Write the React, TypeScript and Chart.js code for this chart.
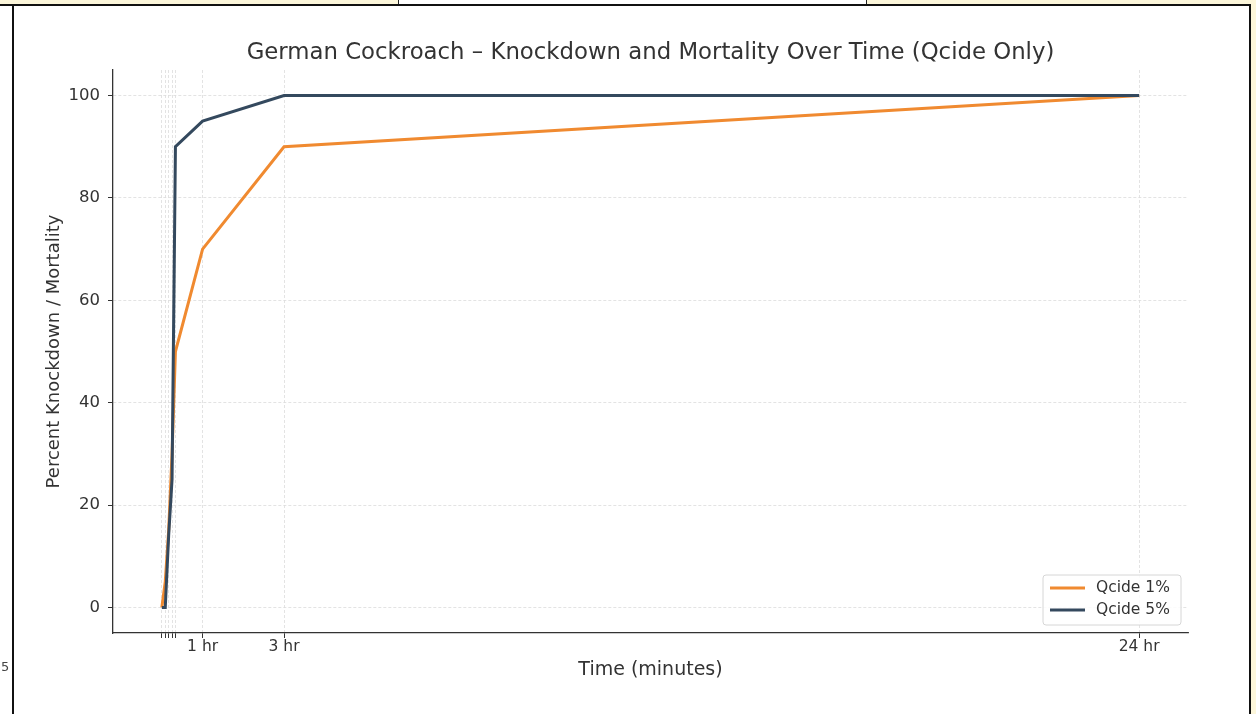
import React, { useEffect, useRef } from "react";
import { Chart, registerables } from "chart.js";

Chart.register(...registerables);

const TITLE = "German Cockroach – Knockdown and Mortality Over Time (Qcide Only)";
const X_TITLE = "Time (minutes)";
const Y_TITLE = "Percent Knockdown / Mortality";

const timeMinutes = [0, 5, 10, 15, 20, 60, 180, 1440];
const qcide1 = [0, 5, 15, 30, 50, 70, 90, 100];
const qcide5 = [0, 0, 14, 25, 90, 95, 100, 100];
const seriesLabels = ["Qcide 1%", "Qcide 5%"];
const seriesColors = ["#f08a30", "#34495e"];

const xTickValues = [0, 5, 10, 15, 20, 60, 180, 1440];
const xTickLabels: Record<number, string> = { 60: "1 hr", 180: "3 hr", 1440: "24 hr" };
const yTickValues = [0, 20, 40, 60, 80, 100];

const FONT = '"DejaVu Sans", "Liberation Sans", sans-serif';
const TEXT = "#333333";

const titlePlugin = {
  id: "centerTitle",
  afterDraw(chart: any) {
    const { ctx, chartArea } = chart;
    ctx.save();
    ctx.font = `22.8px ${FONT}`;
    ctx.fillStyle = TEXT;
    ctx.textAlign = "center";
    ctx.textBaseline = "middle";
    ctx.fillText(TITLE, (chartArea.left + chartArea.right) / 2, 53.5);
    ctx.restore();
  },
};

const legendPlugin = {
  id: "innerLegend",
  afterDatasetsDraw(chart: any) {
    const { ctx, chartArea } = chart;
    const w = 138;
    const h = 50;
    const x = chartArea.right - 7 - w;
    const y = chartArea.bottom - 8 - h;
    ctx.save();
    ctx.beginPath();
    const r = 3;
    ctx.moveTo(x + r, y);
    ctx.lineTo(x + w - r, y);
    ctx.arcTo(x + w, y, x + w, y + r, r);
    ctx.lineTo(x + w, y + h - r);
    ctx.arcTo(x + w, y + h, x + w - r, y + h, r);
    ctx.lineTo(x + r, y + h);
    ctx.arcTo(x, y + h, x, y + h - r, r);
    ctx.lineTo(x, y + r);
    ctx.arcTo(x, y, x + r, y, r);
    ctx.closePath();
    ctx.fillStyle = "rgba(255,255,255,0.85)";
    ctx.fill();
    ctx.strokeStyle = "#d6d6d6";
    ctx.lineWidth = 1;
    ctx.stroke();
    const order = [0, 1];
    order.forEach((di, i) => {
      const ds = chart.data.datasets[di];
      const ly = y + 13 + i * 22;
      ctx.beginPath();
      ctx.strokeStyle = ds.borderColor;
      ctx.lineWidth = 3;
      ctx.moveTo(x + 7, ly);
      ctx.lineTo(x + 42, ly);
      ctx.stroke();
      ctx.fillStyle = TEXT;
      ctx.font = `15.5px ${FONT}`;
      ctx.textAlign = "left";
      ctx.textBaseline = "middle";
      ctx.fillText(ds.label, x + 53, ly);
    });
    ctx.restore();
  },
};

function ChartView() {
  const ref = useRef<HTMLCanvasElement | null>(null);
  useEffect(() => {
    if (!ref.current) return;
    const chart = new Chart(ref.current, {
      type: "line",
      data: {
        datasets: [
          {
            label: seriesLabels[0],
            data: timeMinutes.map((t, i) => ({ x: t, y: qcide1[i] })),
            borderColor: seriesColors[0],
            backgroundColor: seriesColors[0],
            borderWidth: 3,
            pointRadius: 0,
            tension: 0,
            order: 1,
          },
          {
            label: seriesLabels[1],
            data: timeMinutes.map((t, i) => ({ x: t, y: qcide5[i] })),
            borderColor: seriesColors[1],
            backgroundColor: seriesColors[1],
            borderWidth: 3,
            pointRadius: 0,
            tension: 0,
            order: 0,
          },
        ],
      },
      options: {
        responsive: false,
        animation: false,
        layout: { padding: { left: 0, right: 68, top: 70, bottom: 0 } },
        plugins: {
          legend: { display: false },
          title: { display: false },
          tooltip: { enabled: false },
        },
        scales: {
          x: {
            type: "linear",
            min: -72,
            max: 1512,
            afterFit(scale: any) {
              scale.height = 81;
            },
            afterBuildTicks(scale: any) {
              scale.ticks = xTickValues.map((v) => ({ value: v }));
            },
            ticks: {
              autoSkip: false,
              maxRotation: 0,
              minRotation: 0,
              padding: 0,
              color: TEXT,
              font: { family: FONT, size: 15.5 },
              callback: (v: any) => xTickLabels[v as number] ?? "",
            },
            grid: {
              color: "#dcdcdc",
              lineWidth: 0.8,
              tickLength: 5,
              tickColor: "#333",
              tickWidth: 1,
            },
            border: { display: true, color: "#333", width: 1.3, dash: [3, 2] },
            title: {
              display: true,
              text: X_TITLE,
              color: TEXT,
              font: { family: FONT, size: 19 },
              padding: { top: 0, bottom: 33 },
            },
          },
          y: {
            type: "linear",
            min: -5,
            max: 105,
            afterFit(scale: any) {
              scale.width = 113;
            },
            afterBuildTicks(scale: any) {
              scale.ticks = yTickValues.map((v) => ({ value: v }));
            },
            ticks: {
              padding: 8,
              color: TEXT,
              font: { family: FONT, size: 16.5 },
            },
            grid: {
              color: "#dcdcdc",
              lineWidth: 0.8,
              tickLength: 5,
              tickColor: "#333",
              tickWidth: 1,
            },
            border: { display: true, color: "#333", width: 1.3, dash: [3, 2] },
            title: {
              display: true,
              text: Y_TITLE,
              color: TEXT,
              font: { family: FONT, size: 18 },
              padding: { top: 44, bottom: 0 },
            },
          },
        },
      },
      plugins: [titlePlugin, legendPlugin],
    });
    return () => chart.destroy();
  }, []);
  return <canvas ref={ref} width={1256} height={714} style={{ position: "absolute", left: 0, top: 0 }} />;
}

const cream = "#fcf6da";

export default function App() {
  return (
    <div
      style={{
        position: "absolute",
        left: 0,
        top: 0,
        width: 1256,
        height: 714,
        overflow: "hidden",
        background: "#ffffff",
      }}
    >
      <ChartView />
      <div style={{ position: "absolute", left: 0, top: 0, width: 398, height: 4, background: cream }} />
      <div style={{ position: "absolute", left: 866, top: 0, width: 390, height: 4, background: cream }} />
      <div style={{ position: "absolute", left: 1251, top: 0, width: 5, height: 714, background: cream }} />
      <div style={{ position: "absolute", left: 398, top: 0, width: 1, height: 5, background: "#222" }} />
      <div style={{ position: "absolute", left: 866, top: 0, width: 1, height: 5, background: "#222" }} />
      <div style={{ position: "absolute", left: 0, top: 4, width: 1251, height: 2, background: "#111" }} />
      <div style={{ position: "absolute", left: 12, top: 4, width: 2, height: 710, background: "#111" }} />
      <div style={{ position: "absolute", left: 1249, top: 4, width: 2, height: 710, background: "#111" }} />
      <div
        style={{
          position: "absolute",
          left: 1,
          top: 660,
          fontFamily: FONT,
          fontSize: 13,
          color: "#444",
          lineHeight: "14px",
        }}
      >
        5
      </div>
    </div>
  );
}
